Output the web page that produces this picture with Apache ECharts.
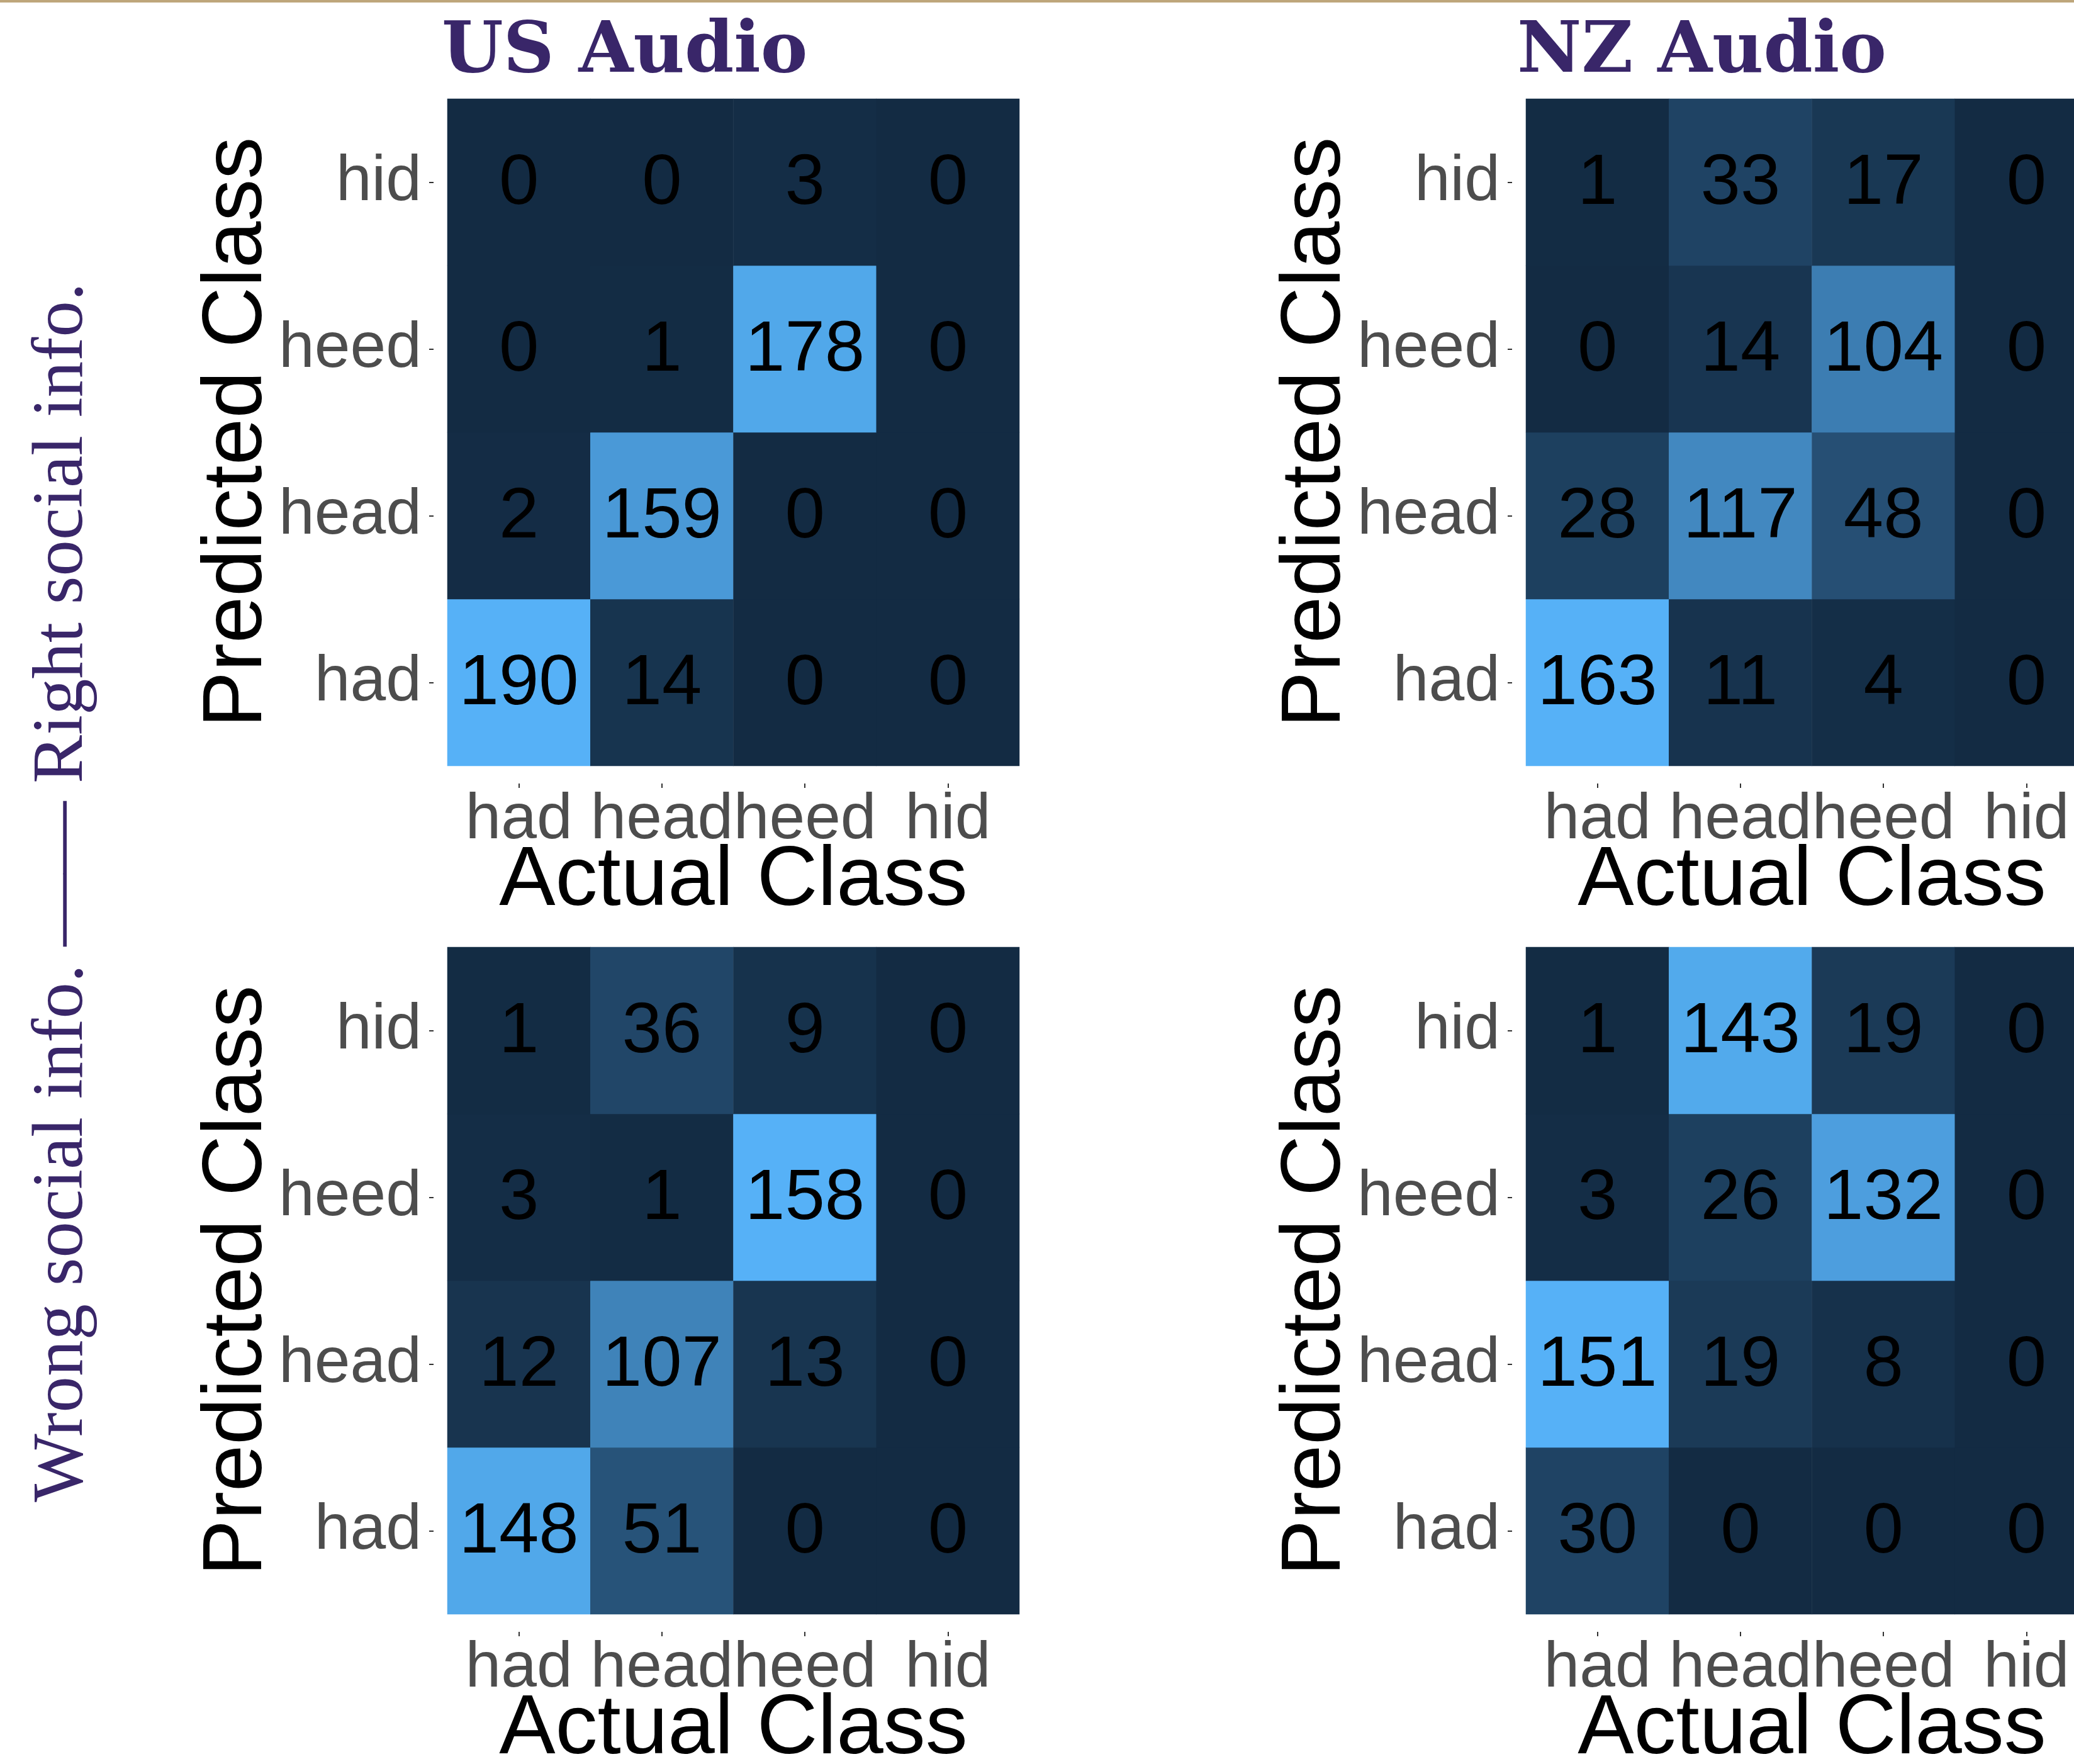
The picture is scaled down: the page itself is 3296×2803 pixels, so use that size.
<!DOCTYPE html>
<html>
<head>
<meta charset="utf-8">
<script src="https://cdn.jsdelivr.net/npm/echarts@6/dist/echarts.min.js"></script>
<style>
html,body{margin:0;padding:0;background:#fff;}
#chart{width:3296px;height:2803px;}
</style>
</head>
<body>
<div id="chart"></div>
<script>
// categories (same for actual and predicted)
const classes = ['had', 'head', 'heed', 'hid'];
// rows = predicted class (had, head, heed, hid), columns = actual class (had, head, heed, hid)
const usRight = [
  [190, 14, 0, 0],
  [2, 159, 0, 0],
  [0, 1, 178, 0],
  [0, 0, 3, 0]
];
const nzRight = [
  [163, 11, 4, 0],
  [28, 117, 48, 0],
  [0, 14, 104, 0],
  [1, 33, 17, 0]
];
const usWrong = [
  [148, 51, 0, 0],
  [12, 107, 13, 0],
  [3, 1, 158, 0],
  [1, 36, 9, 0]
];
const nzWrong = [
  [30, 0, 0, 0],
  [151, 19, 8, 0],
  [3, 26, 132, 0],
  [1, 143, 19, 0]
];
const panelTitles = ['US Audio', 'NZ Audio'];
const sideLabel = 'Wrong social info. \u2014\u2014 Right social info.';
const xName = 'Actual Class';
const yName = 'Predicted Class';

// ---- Lab colour ramp (like ggplot2 seq_gradient) ----
function hex2rgb(h){return [parseInt(h.slice(1,3),16),parseInt(h.slice(3,5),16),parseInt(h.slice(5,7),16)];}
function lin(c){c/=255;return c<=0.04045?c/12.92:Math.pow((c+0.055)/1.055,2.4);}
function delin(c){c=c<=0.0031308?12.92*c:1.055*Math.pow(c,1/2.4)-0.055;return Math.max(0,Math.min(255,Math.round(c*255)));}
const Xn=0.95047,Yn=1,Zn=1.08883;
function f(t){return t>0.008856?Math.cbrt(t):7.787*t+16/116;}
function finv(t){return t*t*t>0.008856?t*t*t:(t-16/116)/7.787;}
function rgb2lab(rgb){
  const r=lin(rgb[0]),g=lin(rgb[1]),b=lin(rgb[2]);
  const X=0.4124*r+0.3576*g+0.1805*b,Y=0.2126*r+0.7152*g+0.0722*b,Z=0.0193*r+0.1192*g+0.9505*b;
  const fx=f(X/Xn),fy=f(Y/Yn),fz=f(Z/Zn);
  return [116*fy-16,500*(fx-fy),200*(fy-fz)];
}
function lab2hex(lab){
  const fy=(lab[0]+16)/116,fx=fy+lab[1]/500,fz=fy-lab[2]/200;
  const X=Xn*finv(fx),Y=Yn*finv(fy),Z=Zn*finv(fz);
  const r=3.2406*X-1.5372*Y-0.4986*Z,g=-0.9689*X+1.8758*Y+0.0415*Z,b=0.0557*X-0.2040*Y+1.0570*Z;
  return '#'+[r,g,b].map(v=>delin(v).toString(16).padStart(2,'0')).join('');
}
const lowLab=rgb2lab(hex2rgb('#132B43')), highLab=rgb2lab(hex2rgb('#56B1F7'));
const ramp=[];
for(let i=0;i<=20;i++){const t=i/20;ramp.push(lab2hex([0,1,2].map(k=>lowLab[k]+(highLab[k]-lowLab[k])*t)));}

const panels=[usRight,nzRight,usWrong,nzWrong];
const lefts=[711,2425,711,2425];
const tops=[157,157,1505,1505];
const W=909,H=1060;
const sans='"Liberation Sans", Arial, sans-serif';
const serif='"Liberation Serif", "DejaVu Serif", serif';
const purple='#392669';

const grids=[],xAxes=[],yAxes=[],series=[],visualMaps=[];
panels.forEach((m,i)=>{
  grids.push({left:lefts[i],top:tops[i],width:W,height:H,containLabel:false,outerBoundsMode:'none'});
  xAxes.push({type:'category',gridIndex:i,data:classes,offset:28,
    axisLine:{show:false},axisTick:{show:true,alignWithLabel:true,length:7,lineStyle:{color:'#333',width:2}},
    axisLabel:{fontSize:102,color:'#4D4D4D',fontFamily:sans,margin:8,interval:0,hideOverlap:false},
    splitLine:{show:false},
    name:xName,nameLocation:'middle',nameGap:89,nameMoveOverlap:false,nameTextStyle:{fontSize:134,color:'#000',fontFamily:sans}});
  yAxes.push({type:'category',gridIndex:i,data:classes,offset:22,
    axisLine:{show:false},axisTick:{show:true,alignWithLabel:true,length:7,lineStyle:{color:'#333',width:2}},
    axisLabel:{fontSize:102,color:'#4D4D4D',fontFamily:sans,margin:19,interval:0,hideOverlap:false},
    splitLine:{show:false},
    name:yName,nameLocation:'middle',nameGap:244,nameRotate:90,nameMoveOverlap:false,nameTextStyle:{fontSize:134,color:'#000',fontFamily:sans}});
  const data=[];let mx=0;
  m.forEach((row,p)=>row.forEach((v,a)=>{data.push([a,p,v]);mx=Math.max(mx,v);}));
  series.push({type:'heatmap',xAxisIndex:i,yAxisIndex:i,data:data,
    label:{show:true,fontSize:114,color:'#000',fontFamily:sans,offset:[0,3],formatter:p=>String(p.value[2])},
    itemStyle:{borderWidth:0},emphasis:{disabled:true}});
  visualMaps.push({show:false,seriesIndex:i,min:0,max:mx,dimension:2,inRange:{color:ramp}});
});

const chart=echarts.init(document.getElementById('chart'),null,{renderer:'canvas'});
chart.setOption({
  animation:false,
  backgroundColor:'#fff',
  title:[
    {text:panelTitles[0],left:702,top:29,padding:0,textStyle:{fontFamily:'"DejaVu Serif", serif',fontWeight:'bold',fontSize:112,color:purple}},
    {text:panelTitles[1],left:2411,top:29,padding:0,textStyle:{fontFamily:'"DejaVu Serif", serif',fontWeight:'bold',fontSize:112,color:purple}}
  ],
  graphic:[
    {type:'rect',shape:{x:0,y:0,width:3296,height:4},style:{fill:'#BEA67B'},silent:true},
    {type:'text',x:100,y:1418,rotation:Math.PI/2,silent:true,
     style:{text:sideLabel,fontFamily:serif,fontSize:115,fill:purple,align:'center',verticalAlign:'middle'}}
  ],
  grid:grids,xAxis:xAxes,yAxis:yAxes,visualMap:visualMaps,series:series
});
</script>
</body>
</html>
